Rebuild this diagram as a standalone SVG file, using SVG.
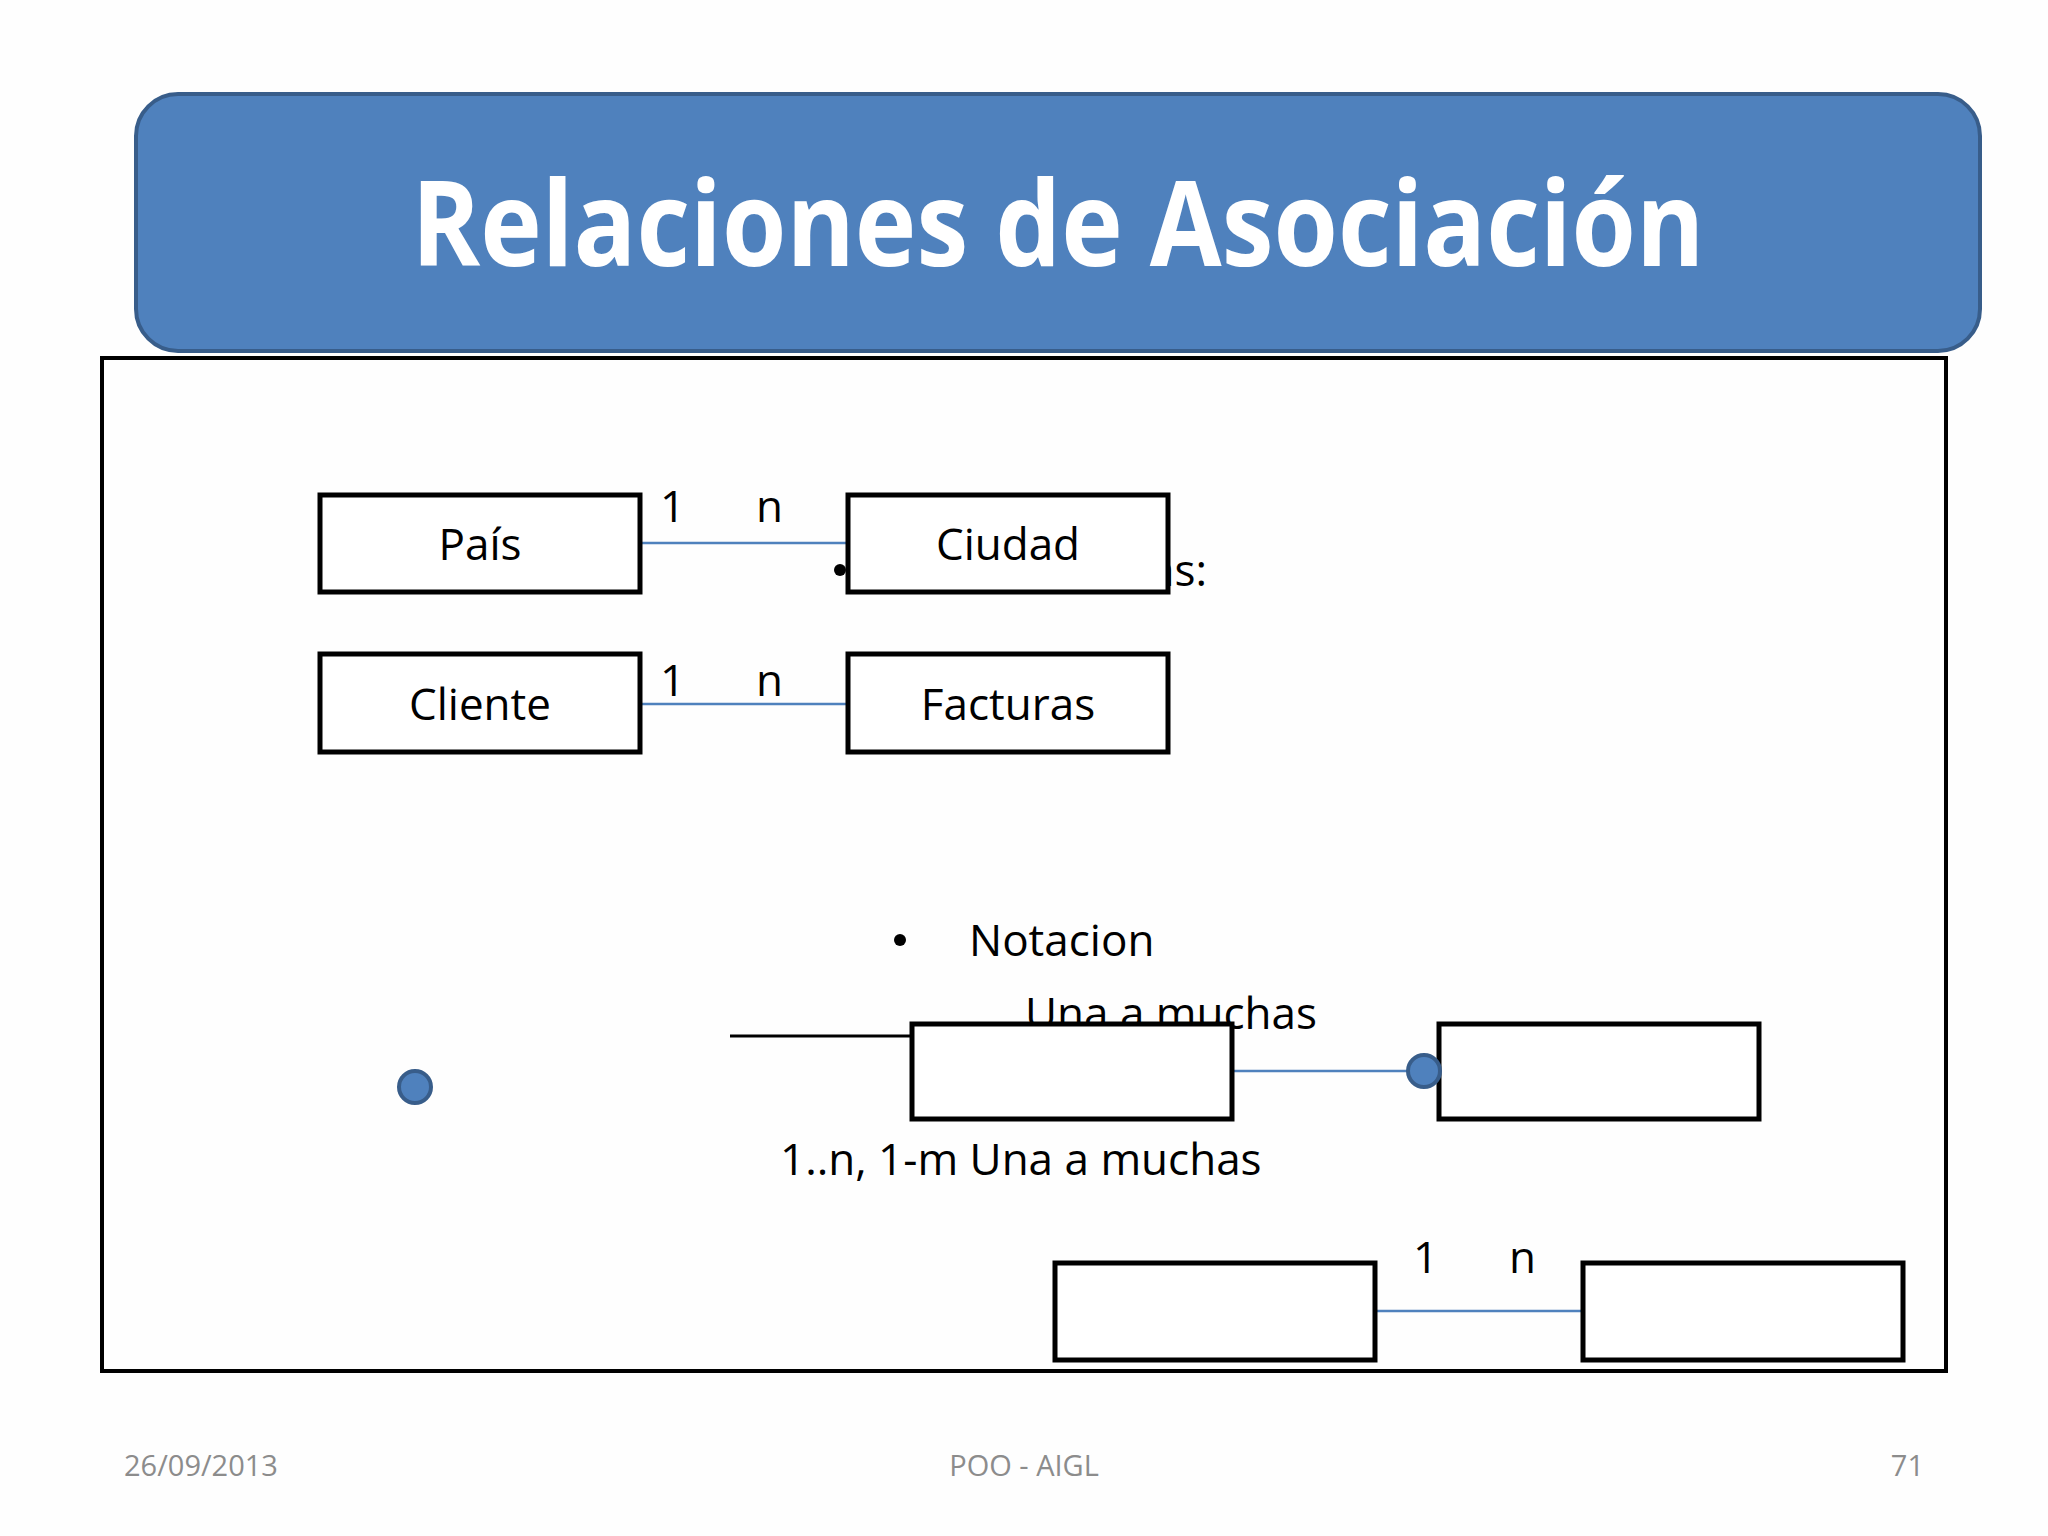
<svg xmlns="http://www.w3.org/2000/svg" width="2048" height="1536" viewBox="0 0 2048 1536">
<style>
.box{fill:#fff;stroke:#000;stroke-width:5}
.t{font-family:"Open Sans","Liberation Sans",sans-serif;font-size:44px;fill:#000}
.c{text-anchor:middle}
.ln{stroke:#4f81bd;stroke-width:2.5}
.dot{fill:#4f81bd;stroke:#385d8a;stroke-width:4}
.f{font-family:"Open Sans","Liberation Sans",sans-serif;font-size:29px;fill:#8c8c8c}
</style>
<rect width="2048" height="1536" fill="#fefefe"/>
<g id="title">
<rect x="136" y="94" width="1844" height="257" rx="42" fill="#4f81bd" stroke="#385d8a" stroke-width="4"/>
<text x="1058" y="266" text-anchor="middle" font-family="'Open Sans','Liberation Sans',sans-serif" font-weight="bold" font-size="118" fill="#fff" textLength="1293" lengthAdjust="spacingAndGlyphs">Relaciones de Asociación</text>
</g>
<rect id="frame" x="102" y="358" width="1844" height="1013" fill="#fefefe" stroke="#000" stroke-width="4"/>
<g id="bg-text">
<circle cx="840" cy="570" r="6" fill="#000"/>
<text class="t" x="1150" y="586">as:</text>
<circle cx="900" cy="940" r="6" fill="#000"/>
<text class="t" x="969" y="956">Notacion</text>
<text class="t" x="1025" y="1029">Una a muchas</text>
<text class="t" x="780" y="1175">1..n, 1-m Una a muchas</text>
</g>
<g id="connectors">
<line class="ln" x1="640" y1="543" x2="848" y2="543"/>
<line class="ln" x1="640" y1="704" x2="848" y2="704"/>
<line x1="730" y1="1036" x2="912" y2="1036" stroke="#000" stroke-width="3"/>
<line class="ln" x1="1232" y1="1071" x2="1439" y2="1071"/>
<line class="ln" x1="1375" y1="1311" x2="1583" y2="1311"/>
</g>
<g id="pais"><rect class="box" x="320" y="495" width="320" height="97"/><text class="t c" x="480" y="560">País</text></g>
<g id="ciudad"><rect class="box" x="848" y="495" width="320" height="97"/><text class="t c" x="1008" y="560">Ciudad</text></g>
<g id="cliente"><rect class="box" x="320" y="654" width="320" height="98"/><text class="t c" x="480" y="720">Cliente</text></g>
<g id="facturas"><rect class="box" x="848" y="654" width="320" height="98"/><text class="t c" x="1008" y="720">Facturas</text></g>
<g id="labels">
<text class="t" x="660" y="522">1</text><text class="t" x="756" y="522">n</text>
<text class="t" x="660" y="696">1</text><text class="t" x="756" y="696">n</text>
<text class="t" x="1413" y="1273">1</text><text class="t" x="1509" y="1273">n</text>
</g>
<g id="box-a"><rect class="box" x="912" y="1024" width="320" height="95"/></g>
<g id="box-b"><rect class="box" x="1439" y="1024" width="320" height="95"/></g>
<g id="box-c"><rect class="box" x="1055" y="1263" width="320" height="97"/></g>
<g id="box-d"><rect class="box" x="1583" y="1263" width="320" height="97"/></g>
<circle class="dot" cx="1424" cy="1071" r="16"/>
<circle class="dot" cx="415" cy="1087" r="16"/>
<g id="footer">
<text class="f" x="124" y="1476">26/09/2013</text>
<text class="f" x="1024" y="1476" text-anchor="middle">POO - AIGL</text>
<text class="f" x="1924" y="1476" text-anchor="end">71</text>
</g>
</svg>
